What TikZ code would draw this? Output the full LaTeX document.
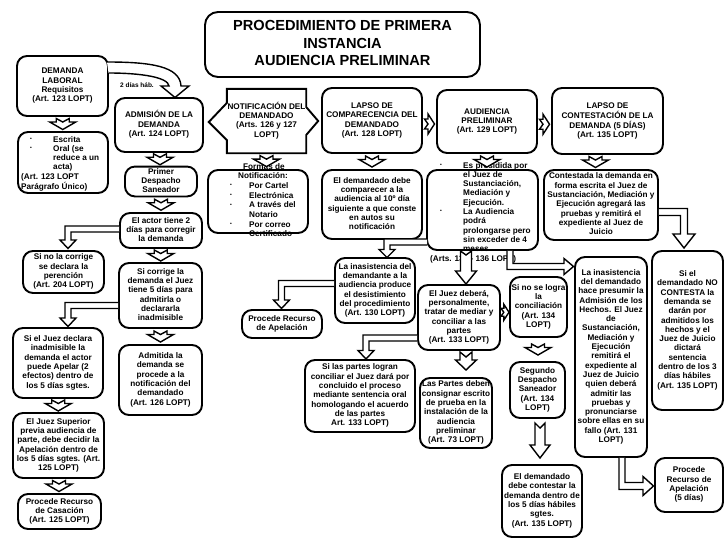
\documentclass[tikz,border=0pt]{standalone}
\usepackage{fontspec}
\setmainfont{Liberation Sans}
\usetikzlibrary{calc}
\newcommand\fb{\fontsize{8.2}{9.3}\selectfont\bfseries}
\newcommand\ctx[1]{\makebox[0pt]{\begin{tabular}{@{}c@{}}#1\end{tabular}}}
\newcommand\ltx[1]{\begin{tabular}[t]{@{}l@{}}#1\end{tabular}}
\newcommand\bul[2]{\makebox[#2][l]{\hspace*{#1}\raisebox{1.8pt}{\fontsize{5}{5}\selectfont •}}}
\newcommand\myind[1]{\hspace*{#1}}
\tikzset{
  box/.style={draw, line width=1.9pt, rounded corners=10pt, inner sep=1pt, font=\fb},
  txt/.style={inner sep=0pt, font=\fb},
  blk/.style={draw, fill=white, line width=1.4pt, line join=miter},
  darr/.pic={\draw[blk] (-6.5,-5.5) -- (0,-2) -- (6.5,-5.5) -- (6.5,-2) -- (13,-2) -- (0,5.5) -- (-13,-2) -- (-6.5,-2) -- cycle;},
  rarr/.pic={\draw[blk] (-5,-5) -- (-1.5,0) -- (-5,5) -- (-1.5,5) -- (-1.5,10) -- (5,0) -- (-1.5,-10) -- (-1.5,-5) -- cycle;}
}
\begin{document}
\begin{tikzpicture}[x=1pt,y=-1pt]
\fill[white] (0,0) rectangle (728,546);
\useasboundingbox (0,0) rectangle (728,546);

% ---------- nodes ----------
\node[box, minimum width=275pt, minimum height=65pt, rounded corners=13pt, font=\fontsize{14.6}{17.5}\selectfont\bfseries] (title) at (342.5,44.5) {\ctx{PROCEDIMIENTO DE PRIMERA\\INSTANCIA\\AUDIENCIA PRELIMINAR}};

\node[box, minimum width=91pt, minimum height=60pt] (dem) at (62.5,86) {\ctx{DEMANDA\\LABORAL\\Requisitos\\(Art. 123 LOPT)}};
\node[box, minimum width=90pt, minimum height=61pt] (escrita) at (63,162.5) {};
\node[txt, anchor=base west] (escritaT) at (21,142) {\ltx{\bul{9pt}{32pt}Escrita\\ \bul{9pt}{32pt}Oral (se\\ \myind{32pt}reduce a un\\ \myind{32pt}acta)\\ (Art. 123 LOPT\\ Parágrafo Único)}};

\node[box, minimum width=88pt, minimum height=54pt] (adm) at (159,125) {\ctx{ADMISIÓN DE LA\\DEMANDA\\(Art. 124 LOPT)}};
\node[box, minimum width=72pt, minimum height=29pt] (primer) at (161,181.5) {\ctx{Primer\\Despacho\\Saneador}};
\node[box, minimum width=82pt, minimum height=35pt] (actor) at (161,230.5) {\ctx{El actor tiene 2\\días para corregir\\la demanda}};
\node[box, minimum width=81pt, minimum height=42pt] (nocorr) at (63.5,272) {\ctx{Si no la corrige\\se declara la\\perención\\(Art. 204 LOPT)}};
\node[box, minimum width=83pt, minimum height=65pt] (sicorr) at (160.5,295.5) {\ctx{Si corrige la\\demanda el Juez\\tiene 5 días para\\admitirla o\\declararla\\inadmisible}};
\node[box, minimum width=90pt, minimum height=70pt] (apelar) at (58,363) {\ctx{Si el Juez declara\\inadmisible la\\demanda el actor\\puede Apelar (2\\efectos) dentro de\\los 5 días sgtes.}};
\node[box, minimum width=83pt, minimum height=70pt] (admitida) at (160.5,380) {\ctx{Admitida la\\demanda se\\procede a la\\notificación del\\demandado\\(Art. 126 LOPT)}};
\node[box, minimum width=91pt, minimum height=65pt] (superior) at (58.5,445.5) {\ctx{El Juez Superior\\previa audiencia de\\parte, debe decidir la\\Apelación dentro de\\los 5 días sgtes. (Art.\\125 LOPT)}};
\node[box, minimum width=83pt, minimum height=35pt] (casacion) at (59.5,511.5) {\ctx{Procede Recurso\\de Casación\\(Art. 125 LOPT)}};

\node[txt, minimum width=79pt, minimum height=64pt] (notif) at (266.5,121) {\ctx{NOTIFICACIÓN DEL\\DEMANDADO\\(Arts. 126 y 127\\LOPT)}};
\draw[line width=1.9pt, line join=miter] (notif.north west) -- (notif.north east) -- ($(notif.east)+(0,-14)$) -- ($(notif.east)+(12,0)$) -- ($(notif.east)+(0,14)$) -- (notif.south east) -- (notif.south west) -- ($(notif.west)+(0,19)$) -- ($(notif.west)+(-18,1)$) -- ($(notif.west)+(0,-18)$) -- cycle;
\node[box, minimum width=100pt, minimum height=63pt] (formas) at (258,201.5) {};
\node[txt, anchor=base west, font=\fontsize{8.2}{9.7}\selectfont\bfseries] (formasT) at (208,169) {\ltx{\myind{35pt}Formas de\\ \myind{30pt}Notificación:\\ \bul{22pt}{41pt}Por Cartel\\ \bul{22pt}{41pt}Electrónica\\ \bul{22pt}{41pt}A través del\\ \myind{41pt}Notario\\ \bul{22pt}{41pt}Por correo\\ \myind{41pt}Certificado}};

\node[box, minimum width=100pt, minimum height=65pt] (lapso) at (372,120.5) {\ctx{LAPSO DE\\COMPARECENCIA DEL\\DEMANDADO\\(Art. 128 LOPT)}};
\node[box, minimum width=100pt, minimum height=69pt] (comparecer) at (372,204.5) {\ctx{El demandado debe\\comparecer a la\\audiencia al 10º día\\siguiente a que conste\\en autos su\\notificación}};

\node[box, minimum width=100pt, minimum height=63pt] (audiencia) at (487,121.5) {\ctx{AUDIENCIA\\PRELIMINAR\\(Art. 129 LOPT)}};
\node[box, minimum width=111pt, minimum height=80pt] (audbul) at (482.5,210) {};
\node[txt, anchor=base west] (audbulT) at (430,168) {\ltx{\bul{10pt}{33pt}Es presidida por\\ \myind{33pt}el Juez de\\ \myind{33pt}Sustanciación,\\ \myind{33pt}Mediación y\\ \myind{33pt}Ejecución.\\ \bul{10pt}{33pt}La Audiencia\\ \myind{33pt}podrá\\ \myind{33pt}prolongarse pero\\ \myind{33pt}sin exceder de 4\\ \myind{33pt}meses\\ (Arts. 131 - 136 LOPT)}};

\node[box, minimum width=111pt, minimum height=66pt] (contlapso) at (607.5,121) {\ctx{LAPSO DE\\CONTESTACIÓN DE LA\\DEMANDA (5 DÍAS)\\(Art. 135 LOPT)}};
\node[box, minimum width=114pt, minimum height=70pt] (contestada) at (601,205) {\ctx{Contestada la demanda en\\forma escrita el Juez de\\Sustanciación, Mediación y\\Ejecución agregará las\\pruebas y remitirá el\\expediente al Juez de\\Juicio}};
\node[box, minimum width=71pt, minimum height=159pt] (nocontesta) at (687.5,330.5) {\ctx{Si el\\demandado NO\\CONTESTA la\\demanda se\\darán por\\admitidos los\\hechos y el\\Juez de Juicio\\dictará\\sentencia\\dentro de los 3\\días hábiles\\(Art. 135 LOPT)}};

\node[box, minimum width=80pt, minimum height=65pt] (inasdem) at (375,290.5) {\ctx{La inasistencia del\\demandante a la\\audiencia produce\\el desistimiento\\del procedimiento\\(Art. 130 LOPT)}};
\node[box, minimum width=80pt, minimum height=28pt] (apel1) at (282,324) {\ctx{Procede Recurso\\de Apelación}};
\node[box, minimum width=82pt, minimum height=65pt] (juez) at (459,317.5) {\ctx{El Juez deberá,\\personalmente,\\tratar de mediar y\\conciliar a las\\partes\\(Art. 133 LOPT)}};
\node[box, minimum width=57pt, minimum height=60pt] (nologra) at (538.5,307) {\ctx{Si no se logra\\la\\conciliación\\(Art. 134\\LOPT)}};
\node[box, minimum width=55pt, minimum height=56pt] (segundo) at (537.5,390) {\ctx{Segundo\\Despacho\\Saneador\\(Art. 134\\LOPT)}};
\node[box, minimum width=72pt, minimum height=200pt] (inasdo) at (611,357) {\ctx{La inasistencia\\del demandado\\hace presumir la\\Admisión de los\\Hechos. El Juez\\de\\Sustanciación,\\Mediación y\\Ejecución\\remitirá el\\expediente al\\Juez de Juicio\\quien deberá\\admitir las\\pruebas y\\pronunciarse\\sobre ellas en su\\fallo (Art. 131\\LOPT)}};
\node[box, minimum width=68pt, minimum height=54pt] (apel2) at (689,485) {\ctx{Procede\\Recurso de\\Apelación\\(5 días)}};
\node[box, minimum width=72pt, minimum height=70pt] (partes) at (456,413) {\ctx{Las Partes deben\\consignar escrito\\de prueba en la\\instalación de la\\audiencia\\preliminar\\(Art. 73 LOPT)}};
\node[box, minimum width=110pt, minimum height=72pt] (logran) at (360,396) {\ctx{Si las partes logran\\conciliar el Juez dará por\\concluido el proceso\\mediante sentencia oral\\homologando el acuerdo\\de las partes\\Art. 133 LOPT)}};
\node[box, minimum width=80pt, minimum height=72pt] (contestar5) at (542,501) {\ctx{El demandado\\debe contestar la\\demanda dentro de\\los 5 días hábiles\\sgtes.\\(Art. 135 LOPT)}};

\node[inner sep=0pt, font=\fontsize{6.5}{7}\selectfont\bfseries] (dias) at (137,85) {2 días háb.};

% ---------- small notched arrows ----------
\pic at ($(dem.south)!.5!(escrita.north)$) {darr};
\pic at ($(adm.south)!.5!(primer.north)$) {darr};
\pic at ($(primer.south)!.5!(actor.north)$) {darr};
\pic at ($(actor.south)!.5!(sicorr.north)$) {darr};
\pic at ($(sicorr.south)!.5!(admitida.north)$) {darr};
\pic at ($(apelar.south)!.5!(superior.north)$) {darr};
\pic at ($(superior.south)!.5!(casacion.north)$) {darr};
\pic at ($(notif.south)!.5!(notif.south |- formas.north)$) {darr};
\pic at ($(lapso.south)!.5!(comparecer.north)$) {darr};
\pic at ($(audiencia.south)!.5!(audiencia.south |- audbul.north)$) {darr};
\pic at ($(contlapso.south)!.5!(contlapso.south |- contestada.north)+(-12,0)$) {darr};
\pic at ($(nologra.south)!.5!(segundo.north)$) {darr};
\pic at ($(lapso.east)!.5!(audiencia.west)+(0,3)$) {rarr};
\pic at ($(audiencia.east)!.5!(contlapso.west)+(0,3)$) {rarr};
\pic[scale=0.8] at ($(juez.east)!.5!(nologra.west)$) {rarr};

% ---------- big block arrows ----------
\draw[blk] (107,62) .. controls (150,62) and (180,66) .. (181,86) -- (189,86) -- (175,97.5) -- (161,86) -- (169,86) .. controls (168,77) and (140,73) .. (108.5,73);
% actor -> nocorr
\draw[blk] (119.2,226) -- (65,226) -- (65,240) -- (60,240) -- (68,248.5) -- (76,240) -- (71,240) -- (71,232) -- (119.2,232);
% sicorr -> apelar
\draw[blk] (118.2,302.5) -- (65,302.5) -- (65,318) -- (60,318) -- (68,326.5) -- (76,318) -- (71,318) -- (71,308.5) -- (118.2,308.5);
% audbul -> inasdem
\draw[blk] (427,239) -- (384,239) -- (384,249.5) -- (379,249.5) -- (387,257.5) -- (395,249.5) -- (390,249.5) -- (390,245) -- (427,245);
% audbul -> juez
\draw[blk] (460.5,251) -- (466,255) -- (471.5,251) -- (471.5,271) -- (476.5,271) -- (466,284) -- (455.5,271) -- (460.5,271) -- cycle;
% audbul -> inasdo
\draw[blk] (507,250.8) -- (507,269.5) -- (564,269.5) -- (564,274.5) -- (573.5,266.5) -- (564,258.5) -- (564,263.5) -- (513,263.5) -- (513,250.8);
% juez -> logran
\draw[blk] (417.2,335) -- (363,335) -- (363,350.5) -- (358,350.5) -- (366,359) -- (374,350.5) -- (369,350.5) -- (369,341) -- (417.2,341);
% juez -> partes
\draw[blk] (460,352) -- (466,357) -- (472,352) -- (472,360) -- (476.5,360) -- (466,370) -- (455.5,360) -- (460,360) -- cycle;
% inasdem -> apel1
\draw[blk] (334.2,280.5) -- (278.5,280.5) -- (278.5,300) -- (273.5,300) -- (281.5,308.5) -- (289.5,300) -- (284.5,300) -- (284.5,286.5) -- (334.2,286.5);
% contestada -> nocontesta
\draw[blk] (658.8,208.5) -- (687.5,208.5) -- (687.5,234) -- (695,234) -- (684,248) -- (673,234) -- (680.5,234) -- (680.5,215.5) -- (658.8,215.5);
% inasdo -> apel2
\draw[blk] (619,457.8) -- (619,489.5) -- (643,489.5) -- (643,495.5) -- (653.5,486) -- (643,476.5) -- (643,482.5) -- (625,482.5) -- (625,457.8);
% segundo -> contestar5
\draw[blk] (535,423) -- (540,428) -- (545,423) -- (545,445) -- (550,445) -- (540,458) -- (530,445) -- (535,445) -- cycle;
\end{tikzpicture}
\end{document}
